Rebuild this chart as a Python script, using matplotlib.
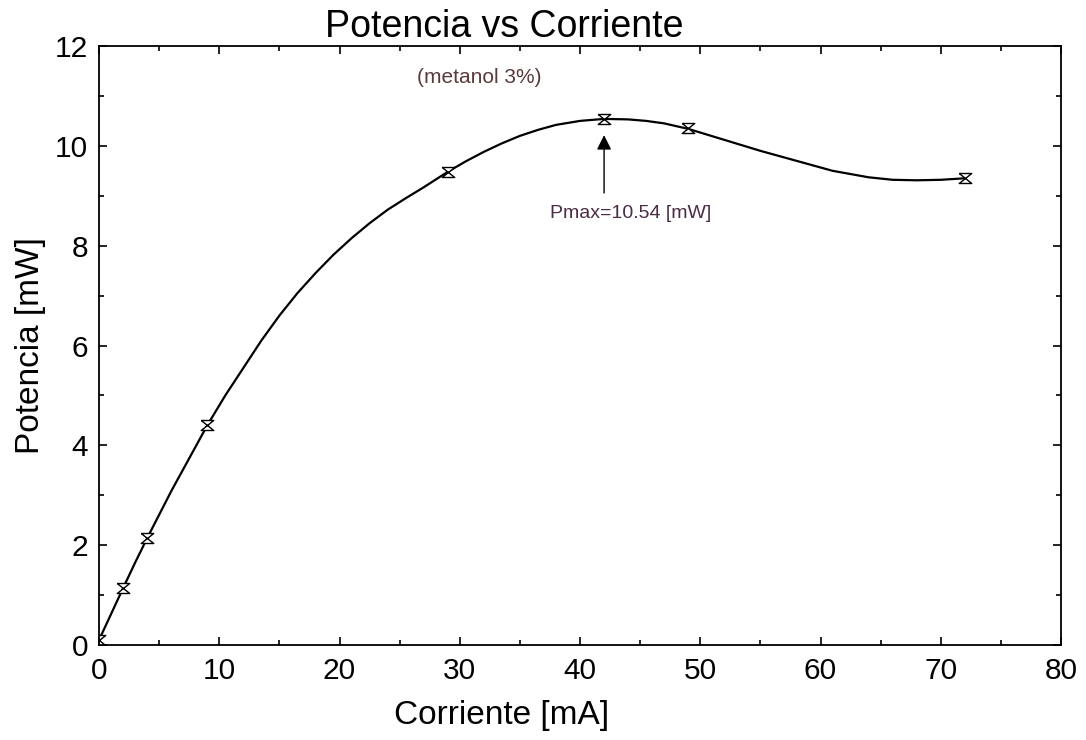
import numpy as np
import matplotlib
matplotlib.use('Agg')
import matplotlib.pyplot as plt
from matplotlib.path import Path
from matplotlib.ticker import MultipleLocator

plt.rcParams['font.family'] = ['Liberation Sans', 'DejaVu Sans']

# measured points (current in mA, power in mW)
corriente = [0, 2, 4, 9, 29, 42, 49, 72]
potencia = [0.1, 1.14, 2.14, 4.40, 9.48, 10.54, 10.35, 9.35]

# smoothed curve
curva_x = [0, 1, 2, 3, 4, 6, 9, 10.5, 12, 13.5, 15, 16.5, 18, 19.5, 21, 22.5, 24, 25.5, 27, 29,
           30.5, 32, 33.5, 35, 36.5, 38, 40, 42, 44, 45.5, 47, 49, 50.5, 52, 55, 58, 61, 64,
           66, 68, 70, 72]
curva_y = [0.1, 0.62, 1.14, 1.65, 2.14, 3.08, 4.40, 5.0, 5.55, 6.1, 6.6, 7.05, 7.45, 7.82, 8.15,
           8.45, 8.72, 8.95, 9.17, 9.48, 9.69, 9.88, 10.05, 10.2, 10.32, 10.42, 10.5, 10.54, 10.53,
           10.5, 10.45, 10.34, 10.23, 10.12, 9.9, 9.7, 9.5, 9.37, 9.32, 9.31, 9.32, 9.35]

pmax_x = 42
pmax_y = 10.54

# hourglass marker like the error bar caps in the original
hourglass = Path([(-1, 0.8), (1, 0.8), (-1, -0.8), (1, -0.8), (-1, 0.8)],
                 [Path.MOVETO, Path.LINETO, Path.LINETO, Path.LINETO, Path.LINETO])

fig = plt.figure(figsize=(10.86, 7.4), dpi=100)
ax = fig.add_axes([0.0912, 0.1284, 0.8858, 0.8094])

ax.plot(curva_x, curva_y, color='black', linewidth=1.6)
ax.plot(corriente, potencia, linestyle='none', marker=hourglass, markersize=9,
        markerfacecolor='white', markeredgecolor='black', markeredgewidth=1.0)

ax.annotate('', xy=(pmax_x, 10.27), xytext=(pmax_x, 9.0),
            arrowprops=dict(arrowstyle='-|>', color='black', lw=1.0, mutation_scale=22))
ax.text(44.2, 8.64, 'Pmax=10.54 [mW]', fontsize=14, color='#4a2c44', ha='center', va='center')
ax.text(31.6, 11.36, '(metanol 3%)', fontsize=15, color='#5a3a3a', ha='center', va='center')

ax.set_xlim(0, 80)
ax.set_ylim(0, 12)
ax.xaxis.set_major_locator(MultipleLocator(10))
ax.xaxis.set_minor_locator(MultipleLocator(5))
ax.yaxis.set_major_locator(MultipleLocator(2))
ax.yaxis.set_minor_locator(MultipleLocator(1))
ax.tick_params(which='both', direction='in', top=True, right=True, labelsize=21.5)
ax.tick_params(which='major', length=6, width=1.2)
ax.tick_params(which='minor', length=3.5, width=1.2)
ax.tick_params(axis='x', pad=9)
ax.tick_params(axis='y', pad=8)
for s in ax.spines.values():
    s.set_linewidth(1.3)

ax.set_ylabel('Potencia [mW]', fontsize=24, labelpad=6)
fig.text(0.462, 0.022, 'Corriente [mA]', fontsize=24, ha='center', va='baseline')
fig.text(0.464, 0.95, 'Potencia vs Corriente', fontsize=27, ha='center', va='baseline')

fig.savefig('out.png', dpi=100)
